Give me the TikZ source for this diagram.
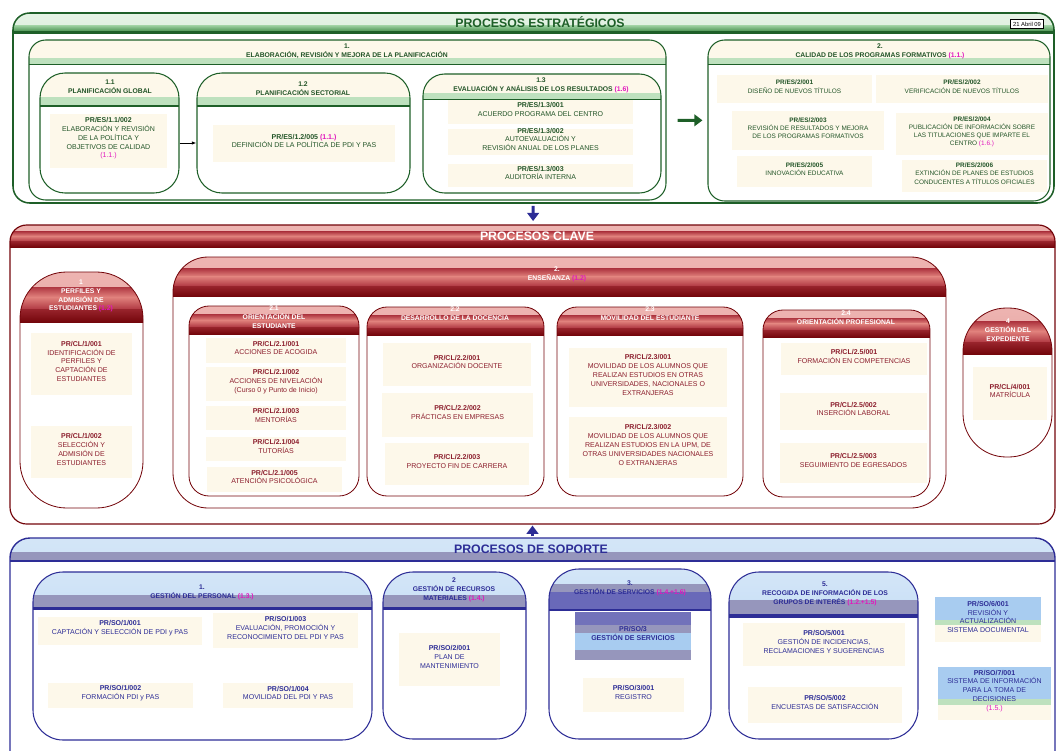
\documentclass[tikz,border=0pt]{standalone}
\usepackage{fontspec}
\setmainfont{Liberation Sans}
\usetikzlibrary{fit,arrows.meta}

\definecolor{gdark}{RGB}{30,95,40}
\definecolor{gmid}{RGB}{110,185,115}
\definecolor{glight}{RGB}{190,225,190}
\definecolor{cream}{RGB}{253,248,234}
\definecolor{gtext}{RGB}{35,85,40}
\definecolor{mag}{RGB}{225,25,190}
\definecolor{rdark}{RGB}{115,5,10}
\definecolor{rmid}{RGB}{175,55,65}
\definecolor{rpink}{RGB}{225,130,125}
\definecolor{rtext}{RGB}{140,30,45}
\definecolor{bdark}{RGB}{45,45,150}
\definecolor{bmid}{RGB}{105,105,185}
\definecolor{bgray}{RGB}{150,150,188}
\definecolor{blight}{RGB}{168,204,240}

\newcommand{\mref}[1]{\textcolor{mag}{#1}}
% one horizontal band of a header: height in px, from, to (fractions), look
\newcommand{\hband}[4]{\path[sharp corners, #4] ([yshift=-(#2)*(#1)*0.03cm]path picture bounding box.north west) rectangle ([yshift=-(#3)*(#1)*0.03cm]path picture bounding box.north east);}

\begin{document}
\begin{tikzpicture}[x=0.03cm,y=-0.03cm,
  font=\fontsize{6}{7.5}\selectfont,
  procbox/.style={draw, rounded corners=#1, inner sep=0pt},
  greenhdr/.style={path picture={\hband{#1}{0}{0.6}{top color=glight!40!white, bottom color=gmid!70!white}\hband{#1}{0.6}{0.86}{top color=gmid!70!white, bottom color=gmid!60!gdark}\hband{#1}{0.86}{1.01}{fill=gdark}}},
  creamhdr/.style={path picture={\hband{#1}{0}{0.72}{fill=cream}\hband{#1}{0.72}{0.95}{fill=glight}\hband{#1}{0.95}{1.01}{fill=gdark}}},
  redhdr/.style={path picture={\hband{#1}{0}{0.3}{top color=rpink!60!white, bottom color=rpink}\hband{#1}{0.3}{0.5}{top color=rmid, bottom color=rpink}\hband{#1}{0.5}{0.75}{top color=rpink, bottom color=rmid}\hband{#1}{0.75}{1.01}{top color=rmid!60!rdark, bottom color=rdark}}},
  bluehdr/.style={path picture={\hband{#1}{0}{0.6}{top color=blight!50!white, bottom color=blight}\hband{#1}{0.6}{0.92}{fill=bgray}\hband{#1}{0.92}{1.01}{fill=bdark}}},
  servhdr/.style={path picture={\hband{#1}{0}{0.35}{top color=blight!50!white, bottom color=blight}\hband{#1}{0.35}{0.55}{fill=bgray}\hband{#1}{0.55}{0.95}{fill=bmid}\hband{#1}{0.95}{1.01}{fill=bdark}}},
  servitem/.style={path picture={\hband{#1}{0}{0.27}{fill=bmid!80!bgray}\hband{#1}{0.27}{0.44}{fill=bgray}\hband{#1}{0.44}{0.8}{fill=blight}\hband{#1}{0.8}{1.01}{fill=bgray}}},
  sideitem/.style 2 args={path picture={\hband{#1}{0}{#2}{fill=blight}\hband{#1}{#2}{#2+0.12}{fill=glight}}},
  estbox/.style={procbox=#1, draw=gdark, line width=0.9pt},
  clavebox/.style={procbox=#1, draw=rdark, line width=0.7pt},
  sopbox/.style={procbox=#1, draw=bdark, line width=0.9pt},
  bigtitle/.style={font=\fontsize{10.5}{12}\selectfont\bfseries},
  ghead/.style={text=gtext, align=center, font=\fontsize{5.8}{7.5}\selectfont\bfseries},
  rhead/.style={text=white, align=center, font=\fontsize{5.8}{7.5}\selectfont\bfseries},
  bhead/.style={text=bdark, align=center, font=\fontsize{5.8}{7.5}\selectfont\bfseries},
  pritem/.style={fill=cream, inner sep=0pt, align=center},
  gitem/.style={pritem, text=gtext},
  ritem/.style={pritem, text=rtext},
  bitem/.style={pritem, text=bdark},
  flow/.style={-{Triangle[length=7pt,width=10pt]}, line width=2.5pt}
]
\clip (0,0) rectangle (1056,751);

% procesos estrategicos
\node[estbox=0.5cm, line width=1.3pt, greenhdr=21, fit={(13,13) (1054,203)}] (estr) {};
\node[bigtitle, text=gdark] (estr-t) at (540,22) {PROCESOS ESTRATÉGICOS};
\node[draw, fill=white, inner sep=2pt, font=\fontsize{5}{6}\selectfont] (fecha) at (1027,24) {21 Abril 09};

\node[estbox=0.5cm, creamhdr=25, fit={(29,40) (666,200)}] (elab) {};
\node[ghead] (elab-t) at (347,51) {1.\\ELABORACIÓN, REVISIÓN Y MEJORA DE LA PLANIFICACIÓN};

\node[estbox=0.75cm, creamhdr=34, fit={(40,73) (179,193)}] (plang) {};
\node[ghead] (plang-t) at (110,87) {1.1\\PLANIFICACIÓN GLOBAL};
\node[gitem, fit={(50,114) (167,168)}] (pg1) {\textbf{PR/ES/1.1/002}\\ELABORACIÓN Y REVISIÓN\\DE LA POLÍTICA Y\\OBJETIVOS DE CALIDAD\\\mref{(1.1.)}};

\node[estbox=0.75cm, creamhdr=34, fit={(197,73) (410,193)}] (plans) {};
\node[ghead] (plans-t) at (303,89) {1.2\\PLANIFICACIÓN SECTORIAL};
\node[gitem, fit={(213,125) (395,162)}] (ps1) {\textbf{PR/ES/1.2/005 \mref{(1.1.)}}\\DEFINICIÓN DE LA POLÍTICA DE PDI Y PAS};

\node[estbox=0.65cm, creamhdr=26, fit={(423,74) (661,193)}] (evalr) {};
\node[ghead] (evalr-t) at (541,85) {1.3\\EVALUACIÓN Y ANÁLISIS DE LOS RESULTADOS \mref{(1.6)}};
\node[gitem, fit={(448,100) (633,124)}] (er1) {\textbf{PR/ES/1.3/001}\\ACUERDO PROGRAMA DEL CENTRO};
\node[gitem, fit={(448,129) (633,155)}] (er2) {\textbf{PR/ES/1.3/002}\\AUTOEVALUACIÓN Y\\REVISIÓN ANUAL DE LOS PLANES};
\node[gitem, fit={(448,164) (633,187)}] (er3) {\textbf{PR/ES/1.3/003}\\AUDITORÍA INTERNA};

\node[estbox=0.5cm, creamhdr=25, fit={(708,40) (1050,201)}] (calprog) {};
\node[ghead] (calprog-t) at (880,51) {2.\\CALIDAD DE LOS PROGRAMAS FORMATIVOS \mref{(1.1.)}};
\begin{scope}[font=\fontsize{5.5}{7}\selectfont]
\node[gitem, fit={(717,75) (872,103)}] (cp1) {\textbf{PR/ES/2/001}\\DISEÑO DE NUEVOS TÍTULOS};
\node[gitem, fit={(876,75) (1048,103)}] (cp2) {\textbf{PR/ES/2/002}\\VERIFICACIÓN DE NUEVOS TÍTULOS};
\node[gitem, fit={(732,111) (884,150)}] (cp3) {\textbf{PR/ES/2/003}\\REVISIÓN DE RESULTADOS Y MEJORA\\DE LOS PROGRAMAS FORMATIVOS};
\node[gitem, fit={(896,113) (1048,155)}] (cp4) {\textbf{PR/ES/2/004}\\PUBLICACIÓN DE INFORMACIÓN SOBRE\\LAS TITULACIONES QUE IMPARTE EL\\CENTRO \mref{(1.6.)}};
\node[gitem, fit={(737,156) (872,187)}] (cp5) {\textbf{PR/ES/2/005}\\INNOVACIÓN EDUCATIVA};
\node[gitem, fit={(902,160) (1047,192)}] (cp6) {\textbf{PR/ES/2/006}\\EXTINCIÓN DE PLANES DE ESTUDIOS\\CONDUCENTES A TÍTULOS OFICIALES};
\end{scope}

\draw[-{Latex[length=4pt]}, line width=0.8pt] ([yshift=-0.3cm]plang.east) -- ([yshift=-0.3cm]plans.west);
\draw[flow, gdark, shorten <=0.33cm, shorten >=0.15cm] (elab) -- (calprog);

% procesos clave
\node[clavebox=0.5cm, line width=1pt, redhdr=22, fit={(10,225) (1055,524)}] (clave) {};
\node[bigtitle, text=white] (clave-t) at (537,236) {PROCESOS CLAVE};

\node[clavebox=1.4cm, redhdr=50, fit={(20,272) (143,508)}] (perf) {};
\node[rhead] (perf-t) at (81,296) {1\\PERFILES Y\\ADMISIÓN DE\\ESTUDIANTES \mref{(1.2)}};
\node[ritem, fit={(31,333) (132,395)}] (pf1) {\textbf{PR/CL/1/001}\\IDENTIFICACIÓN DE\\PERFILES Y\\CAPTACIÓN DE\\ESTUDIANTES};
\node[ritem, fit={(31,426) (132,478)}] (pf2) {\textbf{PR/CL/1/002}\\SELECCIÓN Y\\ADMISIÓN DE\\ESTUDIANTES};

\node[clavebox=1.05cm, redhdr=39, fit={(173,257) (946,508)}] (ense) {};
\node[rhead] (ense-t) at (557,274) {2.\\ENSEÑANZA \mref{(1.2)}};

\node[clavebox=0.6cm, redhdr=28, fit={(189,306) (359,496)}] (orie) {};
\node[rhead] (orie-t) at (274,317) {2.1\\ORIENTACIÓN DEL\\ESTUDIANTE};
\node[ritem, fit={(206,338) (346,363)}] (o1) {\textbf{PR/CL/2.1/001}\\ACCIONES DE ACOGIDA};
\node[ritem, fit={(206,367) (346,401)}] (o2) {\textbf{PR/CL/2.1/002}\\ACCIONES DE NIVELACIÓN\\(Curso 0 y Punto de Inicio)};
\node[ritem, fit={(206,406) (346,430)}] (o3) {\textbf{PR/CL/2.1/003}\\MENTORÍAS};
\node[ritem, fit={(206,437) (346,461)}] (o4) {\textbf{PR/CL/2.1/004}\\TUTORÍAS};
\node[ritem, fit={(207,467) (342,492)}] (o5) {\textbf{PR/CL/2.1/005}\\ATENCIÓN PSICOLÓGICA};

\node[clavebox=0.6cm, redhdr=28, fit={(367,307) (544,496)}] (doce) {};
\node[rhead] (doce-t) at (455,314) {2.2\\DESARROLLO DE LA DOCENCIA};
\node[ritem, fit={(383,343) (531,386)}] (d1) {\textbf{PR/CL/2.2/001}\\ORGANIZACIÓN DOCENTE};
\node[ritem, fit={(382,393) (533,437)}] (d2) {\textbf{PR/CL/2.2/002}\\PRÁCTICAS EN EMPRESAS};
\node[ritem, fit={(385,443) (529,485)}] (d3) {\textbf{PR/CL/2.2/003}\\PROYECTO FIN DE CARRERA};

\node[clavebox=0.6cm, redhdr=28, fit={(557,307) (743,496)}] (movi) {};
\node[rhead] (movi-t) at (650,314) {2.3\\MOVILIDAD DEL ESTUDIANTE};
\node[ritem, fit={(569,348) (727,407)}] (m1) {\textbf{PR/CL/2.3/001}\\MOVILIDAD DE LOS ALUMNOS QUE\\REALIZAN ESTUDIOS EN OTRAS\\UNIVERSIDADES, NACIONALES O\\EXTRANJERAS};
\node[ritem, fit={(569,417) (727,478)}] (m2) {\textbf{PR/CL/2.3/002}\\MOVILIDAD DE LOS ALUMNOS QUE\\REALIZAN ESTUDIOS EN LA UPM, DE\\OTRAS UNIVERSIDADES NACIONALES\\O EXTRANJERAS};

\node[clavebox=0.6cm, redhdr=27, fit={(763,310) (930,497)}] (prof) {};
\node[rhead] (prof-t) at (846,318) {2.4\\ORIENTACIÓN PROFESIONAL};
\node[ritem, fit={(781,343) (927,375)}] (p1) {\textbf{PR/CL/2.5/001}\\FORMACIÓN EN COMPETENCIAS};
\node[ritem, fit={(780,393) (927,430)}] (p2) {\textbf{PR/CL/2.5/002}\\INSERCIÓN LABORAL};
\node[ritem, fit={(780,443) (927,483)}] (p3) {\textbf{PR/CL/2.5/003}\\SEGUIMIENTO DE EGRESADOS};

\node[clavebox=1.3cm, redhdr=46, fit={(963,308) (1052,457)}] (expe) {};
\node[rhead] (expe-t) at (1008,330) {4\\GESTIÓN DEL\\EXPEDIENTE};
\node[ritem, fit={(973,367) (1047,420)}] (e1) {\textbf{PR/CL/4/001}\\MATRÍCULA};

\draw[flow, bdark, shorten <=0.06cm, shorten >=0.1cm] (estr) -- (clave);

% procesos de soporte
\node[sopbox=0.6cm, line width=1.2pt, bluehdr=24, fit={(10,538) (1055,790)}] (sopo) {};
\node[bigtitle, text=bdark] (sopo-t) at (531,549) {PROCESOS DE SOPORTE};

\node[sopbox=0.9cm, bluehdr=38, fit={(33,572) (372,740)}] (pers) {};
\node[bhead] (pers-t) at (202,592) {1.\\GESTIÓN DEL PERSONAL \mref{(1.3.)}};
\node[bitem, fit={(38,617) (202,645)}] (s1) {\textbf{PR/SO/1/001}\\CAPTACIÓN Y SELECCIÓN DE PDI y PAS};
\node[bitem, fit={(213,613) (358,648)}] (s3) {\textbf{PR/SO/1/003}\\EVALUACIÓN, PROMOCIÓN Y\\RECONOCIMIENTO DEL PDI Y PAS};
\node[bitem, fit={(48,683) (193,708)}] (s2) {\textbf{PR/SO/1/002}\\FORMACIÓN PDI y PAS};
\node[bitem, fit={(223,683) (353,708)}] (s4) {\textbf{PR/SO/1/004}\\MOVILIDAD DEL PDI Y PAS};

\node[sopbox=0.9cm, bluehdr=38, fit={(383,572) (526,739)}] (recm) {};
\node[bhead] (recm-t) at (454,590) {2\\GESTIÓN DE RECURSOS\\MATERIALES \mref{(1.4.)}};
\node[bitem, fit={(399,633) (500,686)}] (r1) {\textbf{PR/SO/2/001}\\PLAN DE\\MANTENIMIENTO};

\node[sopbox=0.9cm, servhdr=42, fit={(549,569) (711,739)}] (serv) {};
\node[bhead] (serv-t) at (630,588) {3.\\GESTIÓN DE SERVICIOS \mref{(1.4.+1.6)}};
\node[pritem, text=bdark, servitem=48, fit={(575,612) (691,660)}] (sv0) {\textbf{PR/SO/3}\\\textbf{GESTIÓN DE SERVICIOS}};
\node[bitem, fit={(583,678) (684,712)}] (sv1) {\textbf{PR/SO/3/001}\\REGISTRO};

\node[sopbox=0.9cm, bluehdr=46, fit={(729,572) (918,739)}] (grup) {};
\node[bhead] (grup-t) at (825,594) {5.\\RECOGIDA DE INFORMACIÓN DE LOS\\GRUPOS DE INTERÉS \mref{(1.2.+1.5)}};
\node[bitem, fit={(743,623) (905,666)}] (g1) {\textbf{PR/SO/5/001}\\GESTIÓN DE INCIDENCIAS,\\RECLAMACIONES Y SUGERENCIAS};
\node[bitem, fit={(748,687) (902,723)}] (g2) {\textbf{PR/SO/5/002}\\ENCUESTAS DE SATISFACCIÓN};

\node[pritem, text=bdark, sideitem={45}{0.5}, fit={(935,597) (1041,642)}] (sd6) {\textbf{PR/SO/6/001}\\REVISIÓN Y\\ACTUALIZACIÓN\\SISTEMA DOCUMENTAL};
\node[pritem, text=bdark, sideitem={53}{0.6}, fit={(938,667) (1051,720)}] (sd7) {\textbf{PR/SO/7/001}\\SISTEMA DE INFORMACIÓN\\PARA LA TOMA DE\\DECISIONES\\\mref{(1.5.)}};

\draw[flow, bdark, shorten <=0.03cm, shorten >=0.03cm] (sopo) -- (clave);
\end{tikzpicture}
\end{document}
